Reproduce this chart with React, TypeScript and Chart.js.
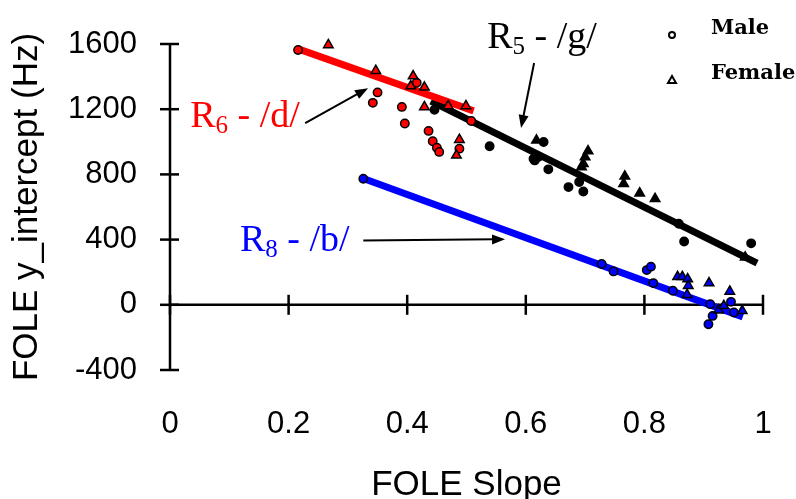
import React, { useEffect, useRef } from "react";
import { Chart, registerables } from "chart.js";

Chart.register(...registerables);

// ---- axis ticks ----
const xTickValues = [0, 0.2, 0.4, 0.6, 0.8, 1];
const xTickLabels = ["0", "0.2", "0.4", "0.6", "0.8", "1"];
const yTickValues = [-400, 0, 400, 800, 1200, 1600];
const yTickLabels = ["-400", "0", "400", "800", "1200", "1600"];

// ---- R6 /d/ (red) ----
const dMaleX = [0.216, 0.35, 0.342, 0.416, 0.391, 0.396, 0.436, 0.443, 0.45, 0.454, 0.488, 0.508];
const dMaleY = [1563, 1303, 1239, 1362, 1214, 1112, 1067, 1003, 964, 938, 958, 1128];
const dFemaleX = [0.267, 0.347, 0.41, 0.406, 0.429, 0.429, 0.469, 0.499, 0.488, 0.483];
const dFemaleY = [1594, 1436, 1403, 1342, 1334, 1214, 1220, 1220, 1013, 917];

// ---- R5 /g/ (black) ----
const gMaleX = [0.446, 0.539, 0.63, 0.613, 0.621, 0.615, 0.638, 0.69, 0.672, 0.697, 0.858, 0.867, 0.98];
const gMaleY = [1196, 973, 999, 896, 906, 886, 831, 753, 722, 695, 497, 388, 377];
const gFemaleX = [0.618, 0.705, 0.7, 0.697, 0.694, 0.767, 0.765, 0.792, 0.818, 0.97];
const gFemaleY = [1009, 943, 906, 866, 845, 788, 743, 685, 650, 291];

// ---- R8 /b/ (blue) ----
const bMaleX = [0.326, 0.728, 0.748, 0.804, 0.811, 0.815, 0.848, 0.911, 0.946, 0.915, 0.908, 0.951];
const bMaleY = [773, 250, 205, 213, 234, 133, 86, 4, 18, -68, -119, -47];
const bFemaleX = [0.856, 0.864, 0.873, 0.874, 0.872, 0.909, 0.944, 0.925, 0.934, 0.965];
const bFemaleY = [172, 172, 158, 117, 62, 133, 82, -33, -6, -37];

// ---- regression lines (endpoints) ----
const dLineX = [0.216, 0.512];
const dLineY = [1570, 1190];
const gLineX = [0.44, 0.99];
const gLineY = [1250, 255];
const bLineX = [0.326, 0.966];
const bLineY = [775, -74];

// ---- annotations (data coords) ----
const labelR5 = { main: "R", sub: "5", rest: " - /g/", x: 0.535, y: 1575, color: "#000000" };
const labelR6 = { main: "R", sub: "6", rest: " - /d/", x: 0.034, y: 1089, color: "#ff0000" };
const labelR8 = { main: "R", sub: "8", rest: " - /b/", x: 0.118, y: 332, color: "#0000ff" };
const arrowR5 = { x1: 0.614, y1: 1483, x2: 0.592, y2: 1085 };
const arrowR6 = { x1: 0.228, y1: 1114, x2: 0.334, y2: 1329 };
const arrowR8 = { x1: 0.326, y1: 394, x2: 0.565, y2: 402 };

const legendItems = ["Male", "Female"];

const zip = (xs: number[], ys: number[]) => xs.map((x, i) => ({ x, y: ys[i] }));

const SANS = "'Liberation Sans', Arial, sans-serif";
const SERIF = "'Liberation Serif', 'Times New Roman', serif";

function drawArrow(ctx: CanvasRenderingContext2D, x1: number, y1: number, x2: number, y2: number) {
  const ang = Math.atan2(y2 - y1, x2 - x1);
  const headLen = 13;
  const headW = 5;
  ctx.save();
  ctx.strokeStyle = "#000";
  ctx.fillStyle = "#000";
  ctx.lineWidth = 2;
  ctx.beginPath();
  ctx.moveTo(x1, y1);
  ctx.lineTo(x2 - Math.cos(ang) * headLen * 0.8, y2 - Math.sin(ang) * headLen * 0.8);
  ctx.stroke();
  ctx.beginPath();
  ctx.moveTo(x2, y2);
  ctx.lineTo(
    x2 - Math.cos(ang) * headLen + Math.sin(ang) * headW,
    y2 - Math.sin(ang) * headLen - Math.cos(ang) * headW
  );
  ctx.lineTo(
    x2 - Math.cos(ang) * headLen - Math.sin(ang) * headW,
    y2 - Math.sin(ang) * headLen + Math.cos(ang) * headW
  );
  ctx.closePath();
  ctx.fill();
  ctx.restore();
}

function drawLabel(ctx: CanvasRenderingContext2D, lab: any, px: number, py: number) {
  ctx.save();
  ctx.fillStyle = lab.color;
  ctx.textBaseline = "alphabetic";
  ctx.textAlign = "left";
  ctx.font = `38px ${SERIF}`;
  ctx.fillText(lab.main, px, py);
  let x = px + ctx.measureText(lab.main).width;
  ctx.font = `25px ${SERIF}`;
  ctx.fillText(lab.sub, x, py + 6);
  x += ctx.measureText(lab.sub).width;
  ctx.font = `38px ${SERIF}`;
  ctx.fillText(lab.rest, x, py);
  ctx.restore();
}

const axesPlugin = {
  id: "customAxes",
  beforeDatasetsDraw(chart: any) {
    const { ctx } = chart;
    const xs = chart.scales.x;
    const ys = chart.scales.y;
    const x0 = xs.getPixelForValue(0);
    const y0 = ys.getPixelForValue(0);
    ctx.save();
    ctx.strokeStyle = "#000";
    ctx.lineWidth = 2.5;
    // y axis
    ctx.beginPath();
    ctx.moveTo(x0, ys.getPixelForValue(yTickValues[0]));
    ctx.lineTo(x0, ys.getPixelForValue(yTickValues[yTickValues.length - 1]));
    ctx.stroke();
    yTickValues.forEach((v) => {
      const p = ys.getPixelForValue(v);
      ctx.beginPath();
      ctx.moveTo(x0 - 10, p);
      ctx.lineTo(x0 + 9, p);
      ctx.stroke();
    });
    // x axis at y = 0
    ctx.beginPath();
    ctx.moveTo(xs.getPixelForValue(xTickValues[0]), y0);
    ctx.lineTo(xs.getPixelForValue(xTickValues[xTickValues.length - 1]), y0);
    ctx.stroke();
    xTickValues.forEach((v) => {
      const p = xs.getPixelForValue(v);
      ctx.beginPath();
      ctx.moveTo(p, y0 - 10);
      ctx.lineTo(p, y0 + 10);
      ctx.stroke();
    });
    ctx.restore();
  },
  afterDatasetsDraw(chart: any) {
    const { ctx } = chart;
    const xs = chart.scales.x;
    const ys = chart.scales.y;
    const P = (x: number, y: number) => [xs.getPixelForValue(x), ys.getPixelForValue(y)];
    [labelR5, labelR6, labelR8].forEach((lab) => {
      const [px, py] = P(lab.x, lab.y);
      drawLabel(ctx, lab, px, py);
    });
    [arrowR5, arrowR6, arrowR8].forEach((a) => {
      const [x1, y1] = P(a.x1, a.y1);
      const [x2, y2] = P(a.x2, a.y2);
      drawArrow(ctx, x1, y1, x2, y2);
    });
    // legend
    const lx = chart.chartArea.right - 91;
    const ly = chart.chartArea.top - 9;
    ctx.save();
    ctx.strokeStyle = "#000";
    ctx.fillStyle = "#fff";
    ctx.lineWidth = 2;
    ctx.beginPath();
    ctx.arc(lx, ly, 3, 0, Math.PI * 2);
    ctx.fill();
    ctx.stroke();
    const ty = ly + 45;
    ctx.beginPath();
    ctx.moveTo(lx, ty - 4);
    ctx.lineTo(lx + 4, ty + 3);
    ctx.lineTo(lx - 4, ty + 3);
    ctx.closePath();
    ctx.fill();
    ctx.stroke();
    ctx.fillStyle = "#000";
    ctx.font = `bold 21px 'DejaVu Serif', serif`;
    ctx.textBaseline = "middle";
    ctx.textAlign = "left";
    ctx.fillText(legendItems[0], lx + 39, ly - 6);
    ctx.fillText(legendItems[1], lx + 39, ty - 6);
    ctx.restore();
  },
};

const pointSet = (data: any[], fill: string, style: string, order: number) => ({
  type: "scatter" as const,
  data,
  showLine: false,
  clip: false,
  pointStyle: style,
  pointRadius: style === "triangle" ? 5.5 : 4.2,
  pointBackgroundColor: fill,
  pointBorderColor: "#000",
  pointBorderWidth: 1.5,
  order,
});

const lineSet = (data: any[], color: string, order: number) => ({
  type: "line" as const,
  data,
  showLine: true,
  clip: false,
  borderColor: color,
  borderWidth: 7,
  pointRadius: 0,
  fill: false,
  order,
});

const hiddenGrid = (len: number) => ({
  display: true,
  drawOnChartArea: false,
  drawTicks: true,
  tickLength: len,
  color: "rgba(0,0,0,0)",
  lineWidth: 0,
});

export default function App() {
  const ref = useRef<HTMLCanvasElement | null>(null);
  useEffect(() => {
    if (!ref.current) return;
    const chart = new Chart(ref.current, {
      type: "scatter",
      data: {
        datasets: [
          lineSet(zip(gLineX, gLineY), "#000000", 20),
          lineSet(zip(dLineX, dLineY), "#ff0000", 19),
          lineSet(zip(bLineX, bLineY), "#0000ff", 18),
          pointSet(zip(gMaleX, gMaleY), "#000000", "circle", 5),
          pointSet(zip(gFemaleX, gFemaleY), "#000000", "triangle", 4),
          pointSet(zip(dMaleX, dMaleY), "#ff0000", "circle", 3),
          pointSet(zip(dFemaleX, dFemaleY), "#ff0000", "triangle", 2),
          pointSet(zip(bMaleX, bMaleY), "#0000ff", "circle", 1),
          pointSet(zip(bFemaleX, bFemaleY), "#0000ff", "triangle", 0),
        ] as any,
      },
      options: {
        animation: false,
        responsive: false,
        devicePixelRatio: 1,
        layout: { autoPadding: false, padding: { top: 44, right: 33, left: 0, bottom: 0 } },
        plugins: { legend: { display: false }, tooltip: { enabled: false } },
        scales: {
          x: {
            type: "linear",
            min: 0,
            max: 1,
            afterFit: (s: any) => {
              s.height = 129;
            },
            afterBuildTicks: (s: any) => {
              s.ticks = xTickValues.map((v) => ({ value: v }));
            },
            grid: hiddenGrid(36),
            border: { display: false },
            ticks: {
              padding: 0,
              color: "#000",
              font: { family: SANS, size: 31 },
              callback: (v: any) => xTickLabels[xTickValues.indexOf(Number(v))] ?? "",
            },
            title: {
              display: true,
              text: "FOLE Slope",
              color: "#000",
              font: { family: SANS, size: 35 },
              padding: { top: 0, bottom: -7 },
            },
          },
          y: {
            type: "linear",
            min: -400,
            max: 1600,
            afterFit: (s: any) => {
              s.width = 170;
            },
            afterBuildTicks: (s: any) => {
              s.ticks = yTickValues.map((v) => ({ value: v }));
            },
            grid: hiddenGrid(33),
            border: { display: false },
            ticks: {
              padding: 0,
              color: "#000",
              font: { family: SANS, size: 31 },
              callback: (v: any) => yTickLabels[yTickValues.indexOf(Number(v))] ?? "",
            },
            title: {
              display: true,
              text: "FOLE y_intercept (Hz)",
              color: "#000",
              font: { family: SANS, size: 35 },
              padding: { top: 6, bottom: 0 },
            },
          },
        },
      },
      plugins: [axesPlugin],
    });
    return () => chart.destroy();
  }, []);
  return (
    <div style={{ position: "absolute", left: 0, top: 0, width: 796, height: 499, background: "#fff" }}>
      <canvas ref={ref} width={796} height={499} />
    </div>
  );
}
